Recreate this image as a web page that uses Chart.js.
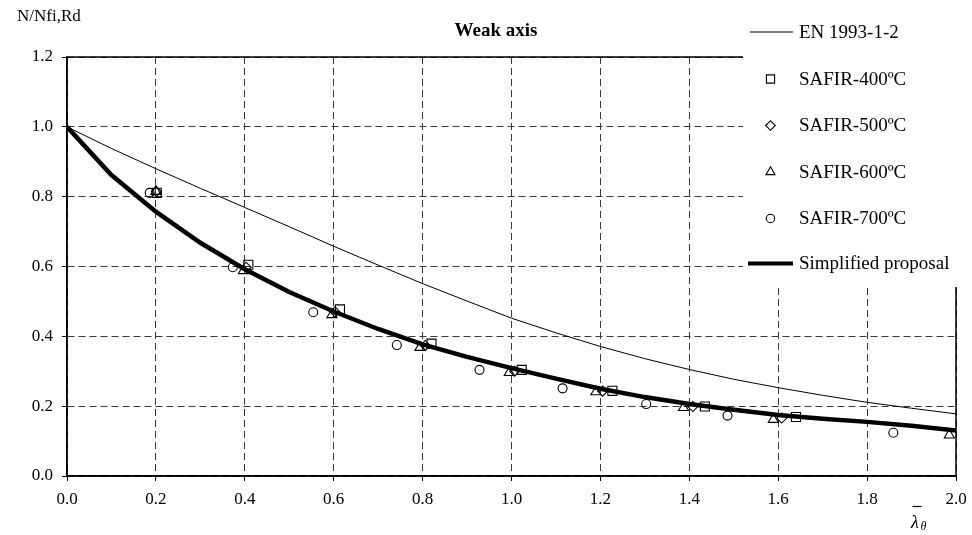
<!DOCTYPE html>
<html>
<head>
<meta charset="utf-8">
<script src="https://cdn.jsdelivr.net/npm/chart.js@4/dist/chart.umd.min.js"></script>
<style>
  html, body { margin: 0; padding: 0; background: #fff; }
  #wrap { position: relative; width: 972px; height: 535px; }
  canvas { display: block; }
</style>
</head>
<body>
<div id="wrap"><canvas id="c" width="972" height="535"></canvas></div>
<script>
// ---- data ----
const lambdaGrid = [0, 0.1, 0.2, 0.3, 0.4, 0.5, 0.6, 0.7, 0.8, 0.9, 1.0, 1.1, 1.2, 1.3, 1.4, 1.5, 1.6, 1.7, 1.8, 1.9, 2.0];
const enValues = [1.0, 0.938, 0.880, 0.824, 0.769, 0.714, 0.658, 0.604, 0.551, 0.501, 0.452, 0.410, 0.371, 0.336, 0.305, 0.277, 0.253, 0.231, 0.211, 0.194, 0.178];
const proposalValues = [1.0, 0.862, 0.757, 0.668, 0.592, 0.527, 0.471, 0.421, 0.377, 0.341, 0.309, 0.279, 0.250, 0.226, 0.206, 0.190, 0.175, 0.164, 0.155, 0.144, 0.130];

const safir400X = [0.202, 0.408, 0.614, 0.820, 1.023, 1.227, 1.435, 1.640];
const safir400Y = [0.811, 0.605, 0.477, 0.379, 0.304, 0.244, 0.199, 0.169];
const safir500X = [0.201, 0.403, 0.603, 0.806, 1.007, 1.205, 1.408, 1.608];
const safir500Y = [0.815, 0.598, 0.470, 0.374, 0.300, 0.243, 0.199, 0.166];
const safir600X = [0.200, 0.397, 0.596, 0.794, 0.995, 1.190, 1.387, 1.589, 1.985];
const safir600Y = [0.815, 0.588, 0.462, 0.368, 0.296, 0.241, 0.196, 0.162, 0.117];
const safir700X = [0.186, 0.373, 0.554, 0.742, 0.928, 1.115, 1.303, 1.486, 1.859];
const safir700Y = [0.811, 0.598, 0.469, 0.375, 0.304, 0.251, 0.206, 0.173, 0.124];

const seriesNames = ['EN 1993-1-2', 'SAFIR-400ºC', 'SAFIR-500ºC', 'SAFIR-600ºC', 'SAFIR-700ºC', 'Simplified proposal'];
const xTicks = [0, 0.2, 0.4, 0.6, 0.8, 1.0, 1.2, 1.4, 1.6, 1.8, 2.0];
const yTicks = [0, 0.2, 0.4, 0.6, 0.8, 1.0, 1.2];
const chartTitle = 'Weak axis';
const yAxisTitle = 'N/Nfi,Rd';

// ---- build ----
const pts = (xs, ys) => xs.map((x, i) => ({x: x, y: ys[i]}));
const SERIF = "'Liberation Serif', 'Times New Roman', serif";

const markerDs = (label, xs, ys, style, r) => ({
  label, data: pts(xs, ys), showLine: false,
  pointStyle: style, pointRadius: r, pointHoverRadius: r,
  pointBorderColor: '#000', pointBackgroundColor: 'rgba(0,0,0,0)', pointBorderWidth: 1.1
});

const overlay = {
  id: 'overlay',
  afterDraw(chart) {
    const ctx = chart.ctx, a = chart.chartArea;
    ctx.save();
    // frame
    ctx.strokeStyle = '#000'; ctx.lineWidth = 1.5; ctx.setLineDash([]);
    ctx.strokeRect(a.left, a.top, a.right - a.left, a.bottom - a.top);
    // legend box (white, covers plot corner)
    ctx.fillStyle = '#fff';
    ctx.fillRect(743, 0, chart.width - 743, 287);
    ctx.fillStyle = '#000';
    ctx.font = '19px ' + SERIF;
    ctx.textBaseline = 'middle'; ctx.textAlign = 'left';
    const rows = [32, 79, 125.5, 172, 218.5, 263.5];
    // EN line
    ctx.lineWidth = 1; ctx.beginPath(); ctx.moveTo(750, rows[0]); ctx.lineTo(793, rows[0]); ctx.stroke();
    // markers
    const styles = ['rect', 'rectRot', 'triangle', 'circle'];
    const radii = [5.8, 4.8, 5.2, 4.2];
    for (let i = 0; i < 4; i++) {
      ctx.lineWidth = 1.1; ctx.strokeStyle = '#000'; ctx.fillStyle = 'rgba(0,0,0,0)';
      Chart.helpers.drawPoint(ctx, {pointStyle: styles[i], radius: radii[i], borderWidth: 1.1}, 770.5, rows[i + 1]);
    }
    // proposal line
    ctx.lineWidth = 4; ctx.beginPath(); ctx.moveTo(748, rows[5]); ctx.lineTo(793, rows[5]); ctx.stroke();
    ctx.fillStyle = '#000';
    for (let i = 0; i < seriesNames.length; i++) {
      ctx.fillText(seriesNames[i], 799, rows[i] + 1);
    }
    // chart title
    ctx.font = 'bold 19px ' + SERIF; ctx.textAlign = 'center';
    ctx.fillText(chartTitle, 496, 31);
    // y axis title
    ctx.font = '17px ' + SERIF; ctx.textAlign = 'left';
    ctx.fillText(yAxisTitle, 17, 17);
    // x axis title: lambda-bar with theta subscript
    ctx.font = 'italic 18px ' + SERIF;
    ctx.textBaseline = 'alphabetic';
    ctx.fillText('λ', 911, 528);
    ctx.font = 'italic 12px ' + SERIF;
    ctx.fillText('θ', 920.5, 530);
    ctx.lineWidth = 1.2; ctx.beginPath(); ctx.moveTo(912.5, 506.5); ctx.lineTo(921.5, 506.5); ctx.stroke();
    ctx.restore();
  }
};

const axisCommon = (min, max, ticksArr) => ({
  type: 'linear', min, max,
  afterBuildTicks: (s) => { s.ticks = ticksArr.map(v => ({value: v})); },
  ticks: {
    callback: (v) => Number(v).toFixed(1),
    font: {family: SERIF, size: 17}, color: '#000'
  },
  grid: {color: '#3a3a3a', lineWidth: 1, tickLength: 5, tickColor: '#000', tickWidth: 1},
  border: {display: true, color: '#000', width: 1.5, dash: [7, 4]}
});

const xScale = axisCommon(0, 2, xTicks);
xScale.ticks.padding = 8; xScale.ticks.maxRotation = 0; xScale.ticks.autoSkip = false;
xScale.afterFit = (s) => { s.height = 59; s.paddingLeft = 0; s.paddingRight = 0; };
const yScale = axisCommon(0, 1.2, yTicks);
yScale.ticks.padding = 9;
yScale.afterFit = (s) => { s.width = 67; s.paddingTop = 0; s.paddingBottom = 0; };

new Chart(document.getElementById('c'), {
  type: 'scatter',
  data: {
    datasets: [
      {label: seriesNames[0], data: pts(lambdaGrid, enValues), showLine: true, borderColor: '#000', borderWidth: 1, pointRadius: 0, tension: 0, fill: false},
      markerDs(seriesNames[1], safir400X, safir400Y, 'rect', 6.4),
      markerDs(seriesNames[2], safir500X, safir500Y, 'rectRot', 5),
      markerDs(seriesNames[3], safir600X, safir600Y, 'triangle', 5.8),
      markerDs(seriesNames[4], safir700X, safir700Y, 'circle', 4.5),
      {label: seriesNames[5], data: pts(lambdaGrid, proposalValues), showLine: true, borderColor: '#000', borderWidth: 4.5, pointRadius: 0, tension: 0, fill: false}
    ]
  },
  options: {
    responsive: false, animation: false, devicePixelRatio: 1,
    layout: {padding: {left: 0, right: 16, top: 57, bottom: 0}},
    plugins: {legend: {display: false}, tooltip: {enabled: false}, title: {display: false}},
    scales: {x: xScale, y: yScale}
  },
  plugins: [overlay]
});
</script>
</body>
</html>
